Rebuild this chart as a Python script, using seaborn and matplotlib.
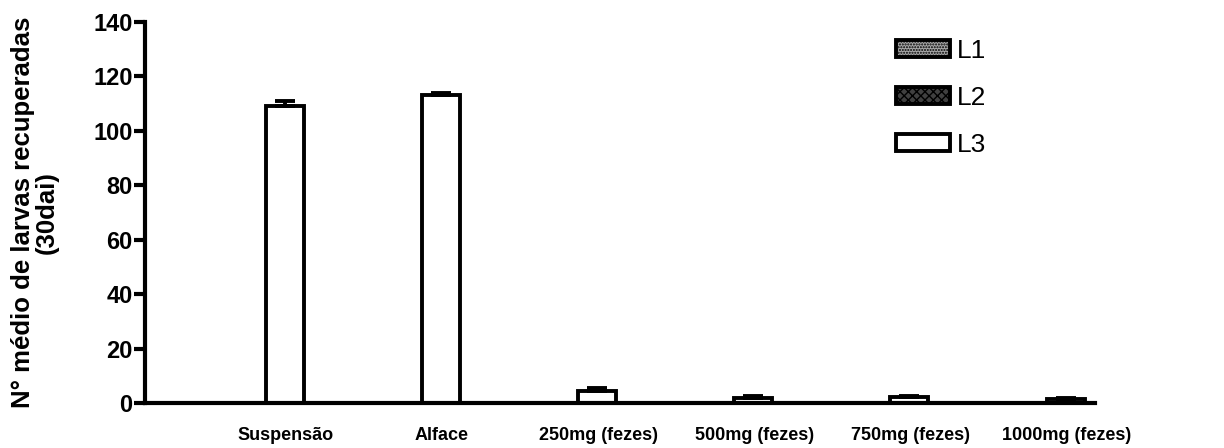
import numpy as np
import pandas as pd
import seaborn as sns
import matplotlib.pyplot as plt

# Mean number of recovered larvae per group and larval stage (30 dai)
categories = ["Suspensão", "Alface", "250mg (fezes)", "500mg (fezes)",
              "750mg (fezes)", "1000mg (fezes)"]
stages = ["L1", "L2", "L3"]
l1_mean = [0, 0, 0, 0, 0, 0]
l2_mean = [0, 0, 0, 0, 0, 0]
l3_mean = [109, 113, 4.4, 2.0, 2.2, 1.3]
l1_err = [0, 0, 0, 0, 0, 0]
l2_err = [0, 0, 0, 0, 0, 0]
l3_err = [2.0, 1.0, 1.0, 0.5, 0.5, 0.4]

errs = {"L1": l1_err, "L2": l2_err, "L3": l3_err}

df = pd.DataFrame({
    "Grupo": categories * len(stages),
    "Estágio": [s for s in stages for _ in categories],
    "Média": l1_mean + l2_mean + l3_mean,
})

sns.set_style("ticks")
plt.rcParams.update({
    "font.family": ["Liberation Sans", "DejaVu Sans"],
    "hatch.linewidth": 1.0,
    "text.color": "black",
    "axes.labelcolor": "black",
    "axes.edgecolor": "black",
    "xtick.color": "black",
    "ytick.color": "black",
})

fig = plt.figure(figsize=(12.24, 4.48), dpi=100)
ax = fig.add_axes([0.1185, 0.1004, 0.776, 0.8505])

sns.barplot(data=df, x="Grupo", y="Média", hue="Estágio",
            order=categories, hue_order=stages, width=0.73,
            errorbar=None, legend=False, saturation=1,
            palette={"L1": "#a8a8a8", "L2": "#404040", "L3": "white"},
            edgecolor="black", linewidth=2.8, ax=ax)

styles = {"L1": "......", "L2": "xxxx", "L3": None}
for container, stage in zip(ax.containers, stages):
    xs, ys = [], []
    for patch in container:
        patch.set_hatch(styles[stage])
        patch.set_clip_on(False)
        xs.append(patch.get_x() + patch.get_width() / 2)
        ys.append(patch.get_height())
    e = np.array(errs[stage])
    if e.any():
        ax.errorbar(xs, ys, yerr=[np.zeros_like(e), e], fmt="none",
                    ecolor="black", elinewidth=2.8, capsize=7.5,
                    capthick=2.8, zorder=1, clip_on=False)

ax.set_ylim(0, 140)
ax.set_yticks(np.arange(0, 141, 20))
ax.set_xlim(-0.65, 5.43)
ax.set_xticks(np.arange(len(categories)) + 0.25)
ax.set_xticklabels(categories, fontsize=13, fontweight="bold")
ax.tick_params(axis="x", length=0, pad=17)
ax.tick_params(axis="y", length=8, width=3, labelsize=17, pad=1)
for lab in ax.get_yticklabels():
    lab.set_fontweight("bold")

ax.set_xlabel("")
ax.set_ylabel("N° médio de larvas recuperadas\n(30dai)", fontsize=18.5,
              fontweight="bold", linespacing=0.95, labelpad=25)

sns.despine(ax=ax)
for side in ("left", "bottom"):
    ax.spines[side].set_linewidth(3)

ax.legend(handles=ax.containers, labels=stages, loc="upper left",
          bbox_to_anchor=(0.7235, 0.937), bbox_transform=fig.transFigure,
          frameon=False, fontsize=19, handlelength=2.05,
          handleheight=0.6, handletextpad=0.25, labelspacing=0.87,
          borderaxespad=0)

fig.savefig("out.png", dpi=100)
